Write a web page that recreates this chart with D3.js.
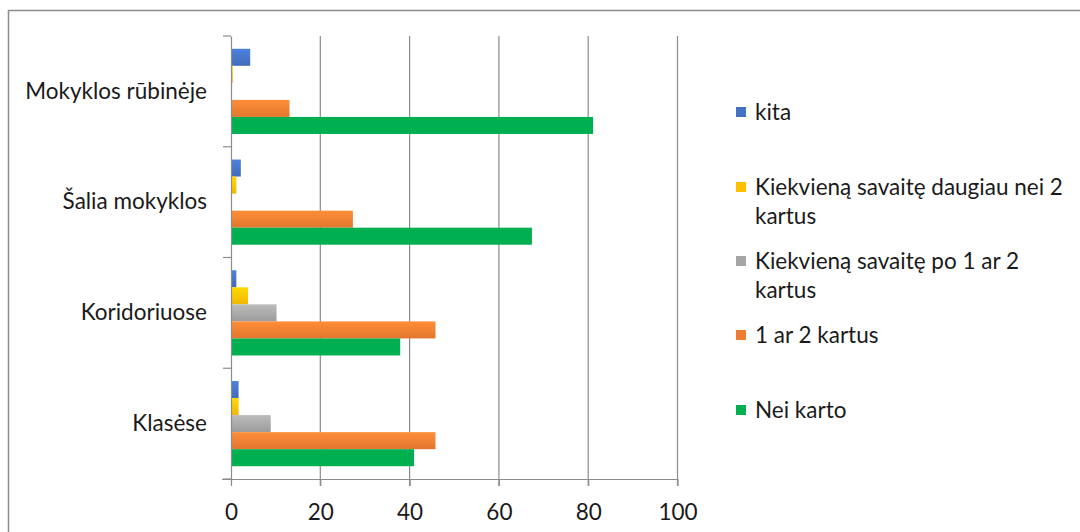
<!DOCTYPE html>
<html>
<head>
<meta charset="utf-8">
<script src="https://cdn.jsdelivr.net/npm/d3@7"></script>
<style>
  body { margin: 0; background: #fff; }
  text { font-family: Lato, "Open Sans", sans-serif; fill: #1a1a1a; }
</style>
</head>
<body>
<div id="chart-area"></div>
<script>
// categories, top to bottom as drawn
let categories = ["Mokyklos rūbinėje", "Šalia mokyklos", "Koridoriuose", "Klasėse"];

// series, in the order they appear inside each category (top to bottom)
let seriesNames = ["kita", "Kiekvieną savaitę daugiau nei 2 kartus", "Kiekvieną savaitę po 1 ar 2 kartus", "1 ar 2 kartus", "Nei karto"];
let kita = [4.3, 2.2, 1.2, 1.7];
let daugiau = [0.4, 1.2, 3.8, 1.7];
let po12 = [0, 0.2, 10.2, 8.9];
let kartus12 = [13.1, 27.3, 45.8, 45.8];
let neiKarto = [81.1, 67.4, 37.9, 41.0];

let xTicks = [0, 20, 40, 60, 80, 100];

let seriesValues = [kita, daugiau, po12, kartus12, neiKarto];
let colors = ["#4472C4", "#FFC000", "#A5A5A5", "#ED7D31", "#00B050"];
let legendLines = [["kita"], ["Kiekvieną savaitę daugiau nei 2", "kartus"], ["Kiekvieną savaitę po 1 ar 2", "kartus"], ["1 ar 2 kartus"], ["Nei karto"]];

let fontSize = 22.5;
let width = 1080, height = 532;
let svg = d3.select("#chart-area").append("svg").attr("width", width).attr("height", height);

// light gradients like the office style bars
let defs = svg.append("defs");
colors.forEach((c, i) => {
  let g = defs.append("linearGradient").attr("id", "grad" + i).attr("x1", 0).attr("y1", 0).attr("x2", 0).attr("y2", 1);
  g.append("stop").attr("offset", "0%").attr("stop-color", i == 4 ? c : d3.color(c).brighter(0.35));
  g.append("stop").attr("offset", "100%").attr("stop-color", i == 4 ? c : d3.color(c).darker(0.15));
});

// chart border (runs off right and bottom)
svg.append("rect").attr("x", 8.5).attr("y", 10.5).attr("width", 1100).attr("height", 600)
  .attr("fill", "none").attr("stroke", "#8c8c8c").attr("stroke-width", 1.5);

let x = d3.scaleLinear().domain([0, 100]).range([231, 677.5]);
let y = d3.scaleBand().domain(categories).range([36, 479]).paddingInner(0).paddingOuter(0);
let yInner = d3.scaleBand().domain(seriesNames).range([0, y.bandwidth()]).paddingInner(0).paddingOuter(0.75);

// gridlines
svg.append("g").selectAll("line").data(xTicks.slice(1)).enter()
  .append("line")
    .attr("x1", d => x(d)).attr("x2", d => x(d))
    .attr("y1", 36).attr("y2", 486)
    .attr("stroke", "#8c8c8c").attr("stroke-width", 1.2);

// bars
seriesNames.forEach((s, si) => {
  svg.append("g").selectAll("rect").data(seriesValues[si]).enter()
    .append("rect")
      .attr("x", x(0))
      .attr("y", (d, i) => y(categories[i]) + yInner(s))
      .attr("width", d => x(d) - x(0))
      .attr("height", yInner.bandwidth())
      .attr("fill", "url(#grad" + si + ")");
});

// x axis
let xAxis = svg.append("g").attr("transform", "translate(0,479)")
  .call(d3.axisBottom(x).tickValues(xTicks).tickSize(7).tickSizeOuter(0));
xAxis.select(".domain").attr("stroke", "#8c8c8c").attr("stroke-width", 1.2)
  .attr("d", "M222,0.5H" + x(100));
xAxis.selectAll(".tick line").attr("stroke", "#8c8c8c").attr("stroke-width", 1.2);
xAxis.selectAll(".tick text").attr("y", 33).attr("dy", "0.35em").attr("font-size", fontSize).attr("fill", "#1a1a1a")
  .style("font-family", "Lato, sans-serif");

// y axis
let yAxis = svg.append("g").attr("transform", "translate(231,0)")
  .call(d3.axisLeft(y).tickSize(0).tickPadding(24));
yAxis.select(".domain").attr("stroke", "#8c8c8c").attr("stroke-width", 1.2);
yAxis.selectAll(".tick text").attr("font-size", fontSize).attr("fill", "#1a1a1a")
  .style("font-family", "Lato, sans-serif");
// category separator ticks
svg.append("g").selectAll("line").data(categories.concat([null])).enter()
  .append("line")
    .attr("x1", 223).attr("x2", 231)
    .attr("y1", (d, i) => i < categories.length ? y(d) : 479)
    .attr("y2", (d, i) => i < categories.length ? y(d) : 479)
    .attr("stroke", "#8c8c8c").attr("stroke-width", 1.2);

// legend
let legendY = [112, 187, 261, 335, 410];
let legend = svg.append("g");
seriesNames.forEach((s, i) => {
  let item = legend.append("g").attr("transform", "translate(736," + legendY[i] + ")");
  item.append("rect").attr("x", 0).attr("y", -5).attr("width", 10).attr("height", 10).attr("fill", colors[i]);
  let t = item.append("text").attr("x", 19).attr("y", 0).attr("font-size", fontSize);
  legendLines[i].forEach((l, li) => {
    t.append("tspan").attr("x", 19).attr("dy", li == 0 ? "0.35em" : 29).text(l);
  });
});
</script>
</body>
</html>
